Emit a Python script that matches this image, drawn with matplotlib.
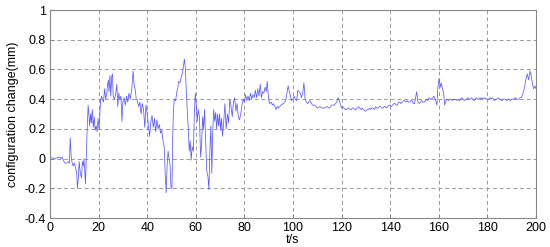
import matplotlib
matplotlib.use("Agg")
import matplotlib.pyplot as plt
import numpy as np

# time (s) and configuration change (mm)
t_early = [0, 1, 2, 3, 4, 4.5, 5, 5.5, 6, 7, 7.5, 8, 8.3, 8.7, 9, 9.5, 10, 10.5, 11, 11.3,
           11.7, 12, 12.5, 13, 13.3, 13.7, 14, 14.3, 14.6, 15, 15.3, 15.7, 16, 16.3, 16.7,
           17, 17.4, 17.8, 18.2, 18.6, 19, 19.4, 19.8, 20.2, 20.5, 20.8, 21.2, 21.6, 22,
           22.5, 22.9, 23.3, 23.7, 24, 24.3, 24.7, 25, 25.4, 25.7, 26, 26.5, 27, 27.5, 27.9,
           28.3, 28.7, 29.2, 29.6, 30, 30.5, 31, 31.5, 32, 32.5, 33, 33.6, 34.2, 34.6, 35,
           35.5, 36, 36.5, 37, 37.5, 38, 38.5, 39, 39.5, 40, 40.5, 41, 41.5, 42, 42.5, 43,
           43.5, 44, 44.5, 45, 45.5, 46, 46.5, 47, 47.4, 47.8, 48.2, 48.6, 49, 49.4, 49.8,
           50.2, 50.5, 50.8, 51.2, 51.7, 52.1, 52.5, 53, 53.5, 54, 54.5, 55, 55.3, 55.7,
           56.1, 56.5, 56.9, 57.3, 57.7, 58.1, 58.5, 59, 59.4, 59.8]
y_early = [0.0, 0.005, 0.0, 0.005, 0.01, 0.0, 0.01, -0.01, -0.03, -0.03, -0.02, -0.03, 0.14,
           0.02, -0.02, -0.05, -0.03, -0.06, -0.1, -0.2, -0.12, -0.02, -0.1, -0.13, -0.02,
           -0.05, 0.0, -0.08, -0.17, 0.05, 0.2, 0.36, 0.3, 0.22, 0.3, 0.24, 0.33, 0.21, 0.28,
           0.19, 0.22, 0.18, 0.27, 0.2, 0.3, 0.39, 0.42, 0.4, 0.38, 0.47, 0.4, 0.43, 0.5,
           0.53, 0.45, 0.56, 0.42, 0.55, 0.57, 0.42, 0.4, 0.43, 0.5, 0.35, 0.44, 0.4, 0.42,
           0.25, 0.38, 0.41, 0.36, 0.42, 0.38, 0.44, 0.4, 0.46, 0.59, 0.5, 0.47, 0.4, 0.39,
           0.35, 0.38, 0.3, 0.37, 0.33, 0.21, 0.36, 0.3, 0.22, 0.15, 0.25, 0.29, 0.21, 0.27,
           0.18, 0.26, 0.2, 0.23, 0.17, 0.19, 0.12, 0.08, -0.1, -0.23, -0.05, 0.05, 0.0,
           -0.04, -0.2, -0.2, 0.15, 0.33, 0.4, 0.39, 0.44, 0.47, 0.52, 0.51, 0.55, 0.58,
           0.63, 0.67, 0.61, 0.45, 0.33, 0.2, 0.05, 0.12, -0.01, 0.08, 0.05, 0.3, 0.44]

t_mid = [60.2, 60.6, 61, 61.5, 62, 62.4, 62.8, 63.2, 63.6, 64, 64.5, 65, 65.4, 65.8, 66.2,
         66.6, 67, 67.4, 67.8, 68.2, 68.6, 69, 69.4, 69.8, 70.2, 70.6, 71, 71.5, 72, 72.5,
         73, 73.5, 74, 74.5, 75, 75.5, 76, 76.5, 77, 77.5, 78, 78.5, 79, 79.5, 80, 80.5,
         81, 81.5, 82, 82.5, 83, 83.5, 84, 84.5, 85, 85.5, 86, 86.5, 87, 87.5, 88, 88.5,
         89, 89.4, 89.8, 90.3, 91, 91.5, 92, 92.5, 93, 93.5, 94, 95, 96, 96.5, 97, 98,
         98.5, 99, 99.5, 100, 100.5, 101, 101.5, 102, 102.5, 103, 103.5, 104, 104.5, 105,
         105.5, 106, 107, 108, 109, 110, 111, 112, 113, 114, 115, 116, 117, 118, 118.6,
         119.2]
y_mid = [0.36, 0.25, 0.33, 0.28, 0.01, 0.1, 0.28, 0.2, 0.33, 0.15, -0.08, -0.12, -0.21,
         0.05, 0.22, -0.1, 0.2, 0.33, 0.25, 0.31, 0.2, 0.3, 0.22, 0.3, 0.19, 0.27, 0.15,
         0.25, 0.37, 0.2, 0.3, 0.24, 0.4, 0.35, 0.28, 0.38, 0.41, 0.32, 0.37, 0.28, 0.26,
         0.3, 0.36, 0.4, 0.38, 0.43, 0.39, 0.42, 0.39, 0.44, 0.4, 0.43, 0.41, 0.46, 0.41,
         0.47, 0.42, 0.5, 0.41, 0.45, 0.44, 0.48, 0.45, 0.52, 0.43, 0.37, 0.38, 0.36, 0.37,
         0.35, 0.33, 0.35, 0.34, 0.36, 0.37, 0.38, 0.39, 0.49, 0.45, 0.42, 0.39, 0.4, 0.42,
         0.4, 0.39, 0.46, 0.45, 0.44, 0.41, 0.44, 0.51, 0.4, 0.38, 0.37, 0.39, 0.36, 0.36,
         0.34, 0.35, 0.34, 0.34, 0.35, 0.34, 0.36, 0.36, 0.38, 0.41, 0.38]

t_late = [120, 120.5, 121, 121.5, 122, 122.5, 123, 123.5, 124, 124.5, 125, 125.5, 126,
          126.5, 127, 127.5, 128, 128.5, 129, 129.5, 130, 130.5, 131, 131.5, 132, 132.5,
          133, 133.5, 134, 134.5, 135, 135.5, 136, 136.5, 137, 137.5, 138, 138.5, 139,
          139.5, 140, 140.5, 141, 141.5, 142, 142.5, 143, 143.5, 144, 144.5, 145, 145.5,
          146, 146.5, 147, 147.5, 148, 148.5, 149, 149.5, 150, 150.9, 151.4, 152, 152.5,
          153, 153.5, 154, 154.5, 155, 155.5, 156, 156.5, 157, 157.5, 158, 158.7, 159.2,
          159.6, 160.1, 160.6, 161, 161.5, 162, 162.4, 163, 163.5, 164, 164.5, 165, 165.5,
          166, 166.5, 167, 167.5, 168, 168.5, 169, 169.5, 170, 170.5, 171, 171.5, 172,
          172.5, 173, 173.5, 174, 174.5, 175, 175.5, 176, 176.5, 177, 177.5, 178, 178.5,
          179, 179.5, 180, 180.5, 181, 181.5, 182, 182.5, 183, 183.5, 184, 184.5, 185,
          185.5, 186, 186.5, 187, 187.5, 188, 188.5, 189, 189.5, 190, 190.5, 191, 191.5,
          192, 192.5, 193, 193.5, 194, 194.7, 195.3, 195.8, 196.4, 197, 197.5, 198, 198.5,
          199, 199.6, 200]
y_late = [0.34, 0.35, 0.34, 0.33, 0.33, 0.34, 0.34, 0.33, 0.33, 0.34, 0.34, 0.33, 0.33,
          0.34, 0.35, 0.34, 0.33, 0.34, 0.33, 0.32, 0.32, 0.33, 0.33, 0.34, 0.33, 0.34,
          0.34, 0.33, 0.35, 0.34, 0.34, 0.35, 0.35, 0.34, 0.34, 0.35, 0.35, 0.34, 0.35,
          0.36, 0.36, 0.35, 0.36, 0.37, 0.37, 0.36, 0.36, 0.38, 0.38, 0.37, 0.38, 0.39,
          0.39, 0.38, 0.39, 0.38, 0.38, 0.39, 0.39, 0.37, 0.37, 0.45, 0.38, 0.37, 0.38,
          0.39, 0.38, 0.38, 0.39, 0.4, 0.39, 0.41, 0.4, 0.4, 0.41, 0.42, 0.39, 0.36, 0.47,
          0.54, 0.48, 0.51, 0.47, 0.44, 0.36, 0.39, 0.4, 0.39, 0.4, 0.4, 0.39, 0.4, 0.395,
          0.4, 0.39, 0.4, 0.39, 0.4, 0.41, 0.4, 0.39, 0.4, 0.4, 0.41, 0.4, 0.4, 0.41, 0.4,
          0.39, 0.4, 0.41, 0.4, 0.4, 0.41, 0.4, 0.41, 0.4, 0.41, 0.4, 0.4, 0.4, 0.41, 0.4,
          0.41, 0.4, 0.39, 0.4, 0.4, 0.41, 0.4, 0.4, 0.39, 0.4, 0.4, 0.4, 0.39, 0.4, 0.4,
          0.39, 0.4, 0.4, 0.4, 0.41, 0.4, 0.4, 0.4, 0.41, 0.41, 0.44, 0.48, 0.53, 0.57,
          0.53, 0.59, 0.56, 0.51, 0.47, 0.49, 0.47]

x_ticks = [0, 20, 40, 60, 80, 100, 120, 140, 160, 180, 200]
y_ticks = [-0.4, -0.2, 0, 0.2, 0.4, 0.6, 0.8, 1]
y_tick_labels = ["-0.4", "-0.2", "0", "0.2", "0.4", "0.6", "0.8", "1"]

t = t_early + t_mid + t_late
y = y_early + y_mid + y_late

plt.rcParams['font.family'] = ['Liberation Sans', 'DejaVu Sans']
fig = plt.figure(figsize=(5.5, 2.47), dpi=100)
ax = fig.add_axes([0.0909, 0.1174, 0.8836, 0.8421])
ax.plot(t, y, color='#5a5aff', lw=0.55)
ax.set_xlim(0, 200)
ax.set_ylim(-0.4, 1)
ax.set_xticks(x_ticks)
ax.set_xticklabels([str(v) for v in x_ticks])
ax.set_yticks(y_ticks)
ax.set_yticklabels(y_tick_labels)
ax.grid(True, linestyle=(0, (4, 3)), color='#9a9a9a', lw=0.7)
for s in ax.spines.values():
    s.set_color('#888888')
    s.set_linewidth(0.8)
ax.tick_params(direction='in', length=3, labelsize=9, color='#888888', pad=3)
ax.set_xlabel('t/s', fontsize=9, labelpad=0)
ax.set_ylabel('configuration change(mm)', fontsize=9, labelpad=4)
fig.savefig('out.png', dpi=100)
